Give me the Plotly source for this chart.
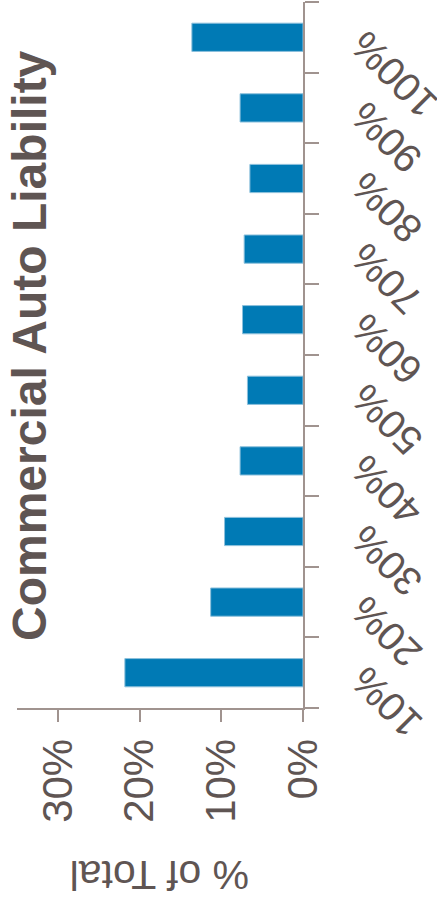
import plotly.graph_objects as go

# Share of total by decile
categories = ["10%", "20%", "30%", "40%", "50%", "60%", "70%", "80%", "90%", "100%"]
share_of_total = [21.8, 11.3, 9.6, 7.7, 6.8, 7.4, 7.2, 6.5, 7.7, 13.6]
value_ticks = [0, 10, 20, 30]
value_tick_labels = ["0%", "10%", "20%", "30%"]

TEXT = "#5F5553"
AXIS = "#A0938F"
BAR = "#007AB5"
FONT = "Liberation Sans, Arial, sans-serif"

W, H = 437, 907
L_M, R_M, T_M, B_M = 17, 134, 2, 199
PLOT_W = W - L_M - R_M
PLOT_H = H - T_M - B_M

fig = go.Figure(
    go.Bar(
        y=categories,
        x=share_of_total,
        orientation="h",
        width=0.4,
        marker=dict(color=BAR, line=dict(color="#8CC0DC", width=1)),
    )
)

# Category labels: turned upside-down on a diagonal, with their last
# character ("%") sitting next to the axis.
CAT_SIZE = 40
GLYPH_EM = {"%": 0.889}


def text_len(s, size):
    return sum(GLYPH_EM.get(ch, 0.556) for ch in s) * size


annotations = []
for cat in categories:
    half = text_len(cat, CAT_SIZE) / 2 * 0.7071
    cx = 358 + half
    annotations.append(
        dict(
            text=cat,
            textangle=-135,
            xref="paper", yref="y",
            x=(cx - L_M) / PLOT_W, y=cat,
            yshift=-(half + 1),
            xanchor="center", yanchor="middle",
            showarrow=False,
            font=dict(size=CAT_SIZE, color=TEXT, family=FONT),
        )
    )

annotations += [
    dict(
        text="<b>Commercial Auto Liability</b>",
        textangle=-90,
        xref="paper", yref="paper",
        x=(29 - L_M) / PLOT_W, y=(708 - 346) / PLOT_H,
        xanchor="center", yanchor="middle",
        showarrow=False,
        font=dict(size=48, color=TEXT, family=FONT),
    ),
    dict(
        text="% of Total",
        textangle=180,
        xref="paper", yref="paper",
        x=0.5, y=(708 - 875) / PLOT_H,
        xanchor="center", yanchor="middle",
        showarrow=False,
        font=dict(size=41, color=TEXT, family=FONT),
    ),
]

fig.update_layout(
    width=W,
    height=H,
    margin=dict(l=L_M, r=R_M, t=T_M, b=B_M, autoexpand=False),
    paper_bgcolor="white",
    plot_bgcolor="white",
    showlegend=False,
    font=dict(family=FONT, color=TEXT, size=40),
    xaxis=dict(
        range=[35, 0],
        tickvals=value_ticks,
        ticktext=value_tick_labels,
        tickangle=-90,
        automargin=False,
        showgrid=False,
        zeroline=False,
        showline=True,
        linecolor=AXIS,
        linewidth=2,
        ticks="outside",
        ticklen=12,
        tickwidth=2,
        tickcolor=AXIS,
        tickfont=dict(size=42, color=TEXT, family=FONT),
    ),
    yaxis=dict(
        side="right",
        range=[-0.5, 9.5],
        categoryorder="array",
        categoryarray=categories,
        tickson="boundaries",
        showticklabels=False,
        automargin=False,
        showgrid=False,
        zeroline=False,
        showline=True,
        linecolor=AXIS,
        linewidth=2,
        ticks="outside",
        ticklen=14,
        tickwidth=2,
        tickcolor=AXIS,
    ),
    annotations=annotations,
)

fig.write_html("out.html")
